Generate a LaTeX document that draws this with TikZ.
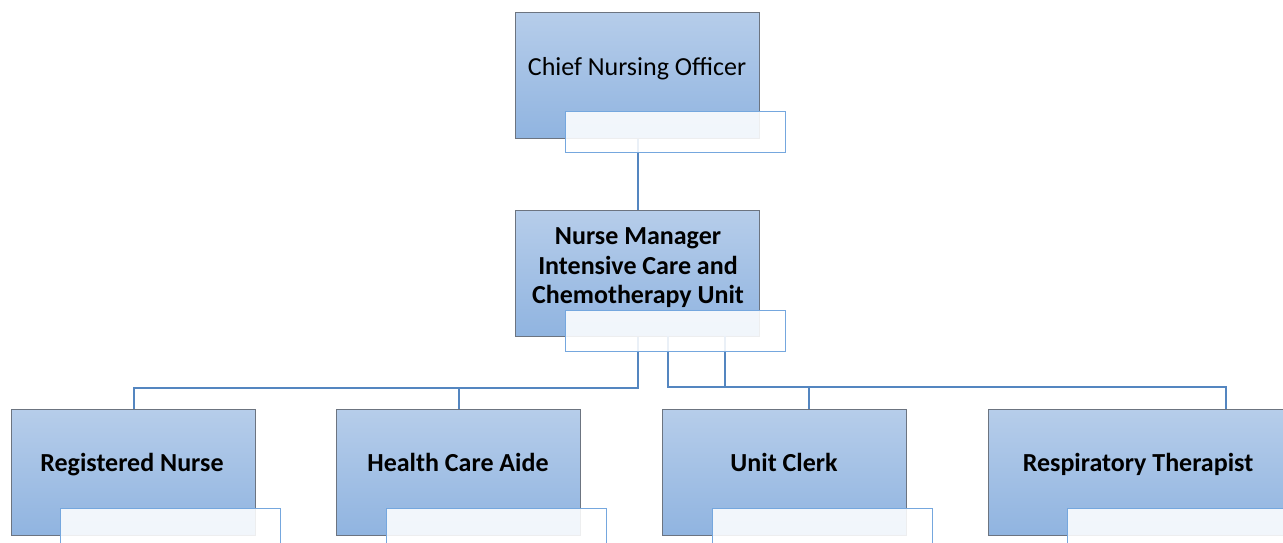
\documentclass[tikz,border=0pt]{standalone}
\usepackage{fontspec}
\setmainfont{Carlito}
\definecolor{boxtop}{RGB}{182,205,234}
\definecolor{boxbot}{RGB}{144,180,224}
\definecolor{boxline}{RGB}{108,116,128}
\definecolor{conn}{RGB}{84,134,192}
\definecolor{lblline}{RGB}{117,167,222}
\tikzset{
  posbox/.style={draw=boxline, line width=1.3pt, top color=boxtop, bottom color=boxbot,
    minimum width=244pt, minimum height=126pt, inner sep=0pt, anchor=north west},
  lblbox/.style={draw=lblline, line width=1pt, fill=white, fill opacity=0.88,
    minimum width=220pt, minimum height=41pt, inner sep=0pt, anchor=north west},
  txt/.style={inner sep=0pt, align=center, anchor=base, font=\fontsize{26}{29.5}\selectfont},
  btxt/.style={txt, font=\fontsize{26}{29.5}\selectfont\bfseries},
  connector/.style={draw=conn, line width=2.2pt}
}
\begin{document}
\begin{tikzpicture}[x=1pt,y=-1pt]
\useasboundingbox (0,0) rectangle (1283,543);
% boxes
\node[posbox] (cno) at (515,12) {};
\node[posbox] (mgr) at (515,210) {};
\node[posbox] (rn) at (11,409) {};
\node[posbox] (hca) at (336,409) {};
\node[posbox] (uc) at (662,409) {};
\node[posbox, minimum width=300pt] (rt) at (988,409) {};
% connector ends
\coordinate (mgrA) at (668,336);
\coordinate (mgrB) at (725,336);
\coordinate (ucin) at (809,409);
\coordinate (rtin) at (1226,409);
% connectors
\draw[connector] (cno.south) -- (mgr.north);
\draw[connector] (mgr.south) -- ++(0,51) -| (rn.north);
\draw[connector] (mgr.south) -- ++(0,51) -| (hca.north);
\draw[connector] (mgrA) -- ++(0,51) -| (ucin);
\draw[connector] (mgrB) -- ++(0,51) -| (rtin);
% label boxes
\node[lblbox] (cnoL) at (565,111) {};
\node[lblbox] (mgrL) at (565,310) {};
\node[lblbox, minimum height=50pt] (rnL) at (60,508) {};
\node[lblbox, minimum height=50pt] (hcaL) at (386,508) {};
\node[lblbox, minimum height=50pt] (ucL) at (712,508) {};
\node[lblbox, minimum height=50pt, minimum width=240pt] (rtL) at (1067,508) {};
% texts
\node[txt] (cnoT) at (637,75) {Chief Nursing Officer};
\node[btxt, anchor=center] (mgrT) at (638,268) {Nurse Manager\\Intensive Care and\\Chemotherapy Unit};
\node[btxt] (rnT) at (132,471) {Registered Nurse};
\node[btxt] (hcaT) at (458,471) {Health Care Aide};
\node[btxt] (ucT) at (784,471) {Unit Clerk};
\node[btxt] (rtT) at (1138,471) {Respiratory Therapist};
\end{tikzpicture}
\end{document}
